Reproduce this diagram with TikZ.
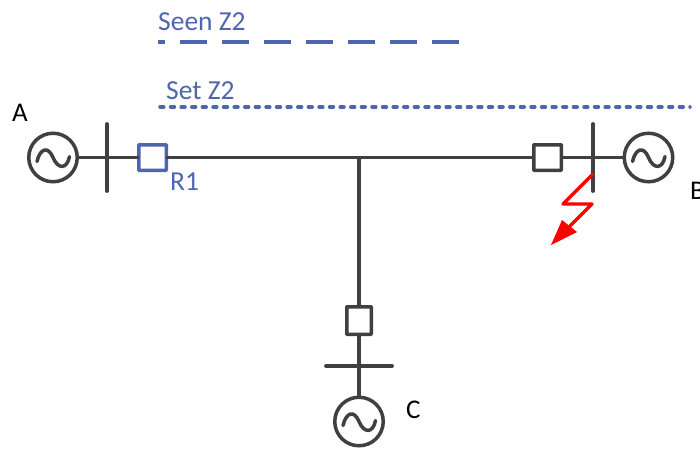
\documentclass[tikz,border=0pt]{standalone}
\usepackage{fontspec}
\setmainfont{Carlito}
\usetikzlibrary{arrows.meta}
\definecolor{dk}{RGB}{64,64,64}
\definecolor{bl}{RGB}{78,101,176}
\tikzset{
  x=1pt,y=-1pt,
  wire/.style={draw=dk,line width=3.5pt},
  busbar/.style={draw=dk,line width=3.8pt,line cap=round},
  breaker/.style={draw=dk,line width=3.5pt,fill=white,rounded corners=0.6pt,minimum width=27.5pt,minimum height=25.5pt,inner sep=0pt,outer sep=0pt},
  relay/.style={breaker,draw=bl},
  gen/.style={circle,draw=dk,line width=3.5pt,fill=white,minimum size=48.5pt,inner sep=0pt,outer sep=0pt},
  sine/.style={draw=dk,line width=3.5pt,line cap=round},
  lbl/.style={font=\fontsize{27.5}{27.5}\selectfont,text=bl,inner sep=0pt,anchor=base west},
  blk/.style={font=\fontsize{27}{27}\selectfont,text=black,inner sep=0pt,anchor=base west},
}
\newcommand{\sinewave}[1]{%
  \draw[sine,shift={(#1.center)}] (-16,4) .. controls (-13,-9) and (-5,-12) .. (0,0) .. controls (5,12) and (14,12) .. (16.5,-1);}
\begin{document}
\begin{tikzpicture}
\useasboundingbox (0,0) rectangle (700,448);
% coordinates
\coordinate (busAt) at (107,124); \coordinate (busAb) at (107,191);
\coordinate (busBt) at (593,124); \coordinate (busBb) at (593,191);
\coordinate (busCl) at (326,366); \coordinate (busCr) at (392,366);
\coordinate (tee) at (359,157);
\coordinate (seenL) at (158,42); \coordinate (seenR) at (460,42);
\coordinate (setL) at (160,107); \coordinate (setR) at (690,107);
\coordinate (f1) at (593,174); \coordinate (f2) at (563,204); \coordinate (f3) at (592,204); \coordinate (f4) at (551,245);
% generators and breakers
\node[gen] (genA) at (53,157.5) {};
\node[gen] (genB) at (648.5,157.5) {};
\node[gen] (genC) at (359,421.5) {};
\node[relay] (r1) at (152.5,157.5) {};
\node[breaker] (brB) at (547.5,157.5) {};
\node[breaker,minimum width=24.5pt,minimum height=27.5pt] (brC) at (359,320.5) {};
% wires
\draw[wire] (genA) -- (r1);
\draw[wire] (r1) -- (brB);
\draw[wire] (brB) -- (genB);
\draw[wire] (tee) -- (brC);
\draw[wire] (brC) -- (genC);
% busbars
\draw[busbar] (busAt) -- (busAb);
\draw[busbar] (busBt) -- (busBb);
\draw[busbar] (busCl) -- (busCr);
% sine waves
\sinewave{genA}\sinewave{genB}\sinewave{genC}
% zone lines
\draw[bl,line width=3.3pt,dash pattern=on 7pt off 15pt on 27pt off 15pt on 27pt off 15pt on 27pt off 15pt on 27pt off 15pt on 27pt off 15pt on 27pt off 15pt on 27pt off 15pt] (seenL) -- (seenR);
\draw[bl,line width=3.5pt,line cap=round,dash pattern=on 3.8pt off 6.8pt] (setL) -- (setR);
% fault
\draw[red,line width=3.4pt,line join=round,line cap=round] (f1) -- (f2) -- (f3) -- (570,226);
\fill[red] (f4) -- (562,220) -- (577,232) -- cycle;
% labels
\node[lbl] (tSeen) at (158,30) {Seen Z2};
\node[lbl] (tSet) at (166,99) {Set Z2};
\node[lbl] (tR1) at (170,190) {R1};
\node[blk] (tA) at (12,121) {A};
\node[blk] (tB) at (690,199) {B};
\node[blk] (tC) at (406,418) {C};
\end{tikzpicture}
\end{document}
